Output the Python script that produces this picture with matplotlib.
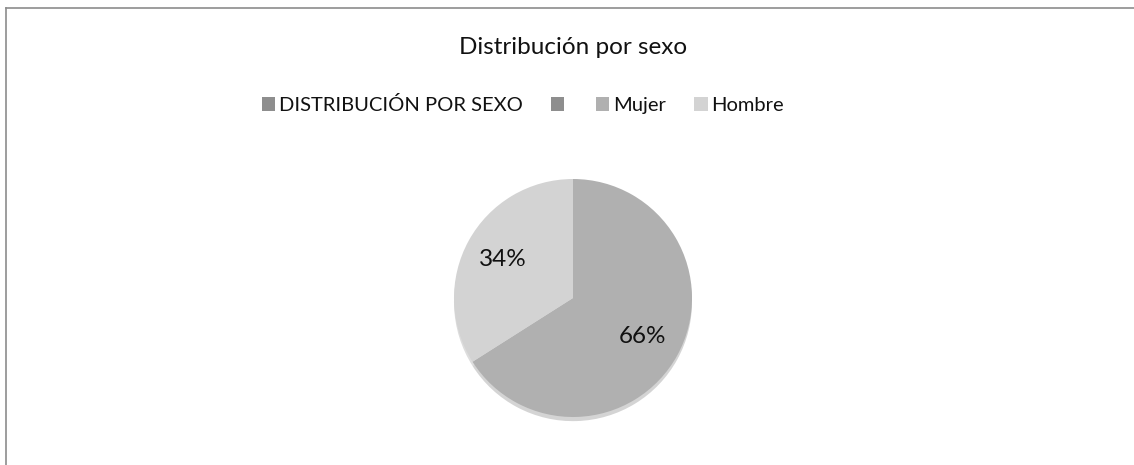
import matplotlib
matplotlib.use('Agg')
import matplotlib.pyplot as plt
from matplotlib.lines import Line2D

plt.rcParams['font.family'] = ['Lato', 'DejaVu Sans']

TITLE = 'Distribución por sexo'
labels = ['DISTRIBUCIÓN POR SEXO', '', 'Mujer', 'Hombre']
values = [0, 0, 66, 34]
colors = ['#8e8e8e', '#8e8e8e', '#b0b0b0', '#d3d3d3']

W, H = 1134, 465
fig = plt.figure(figsize=(W / 100, H / 100), dpi=100)

# pie area, radius about 119 px around (573, 298)
r_px = 119
lim = 1.2
side = 2 * lim * r_px
cx, cy = 573, H - 298
ax = fig.add_axes([(cx - side / 2) / W, (cy - side / 2) / H, side / W, side / H])


def pct(p):
    return '' if p < 0.5 else '%d%%' % round(p)


wedges, texts, autotexts = ax.pie(values, colors=colors, startangle=90, counterclock=False,
                                  autopct=pct, pctdistance=0.67,
                                  wedgeprops=dict(linewidth=0),
                                  textprops=dict(fontsize=17.5, color='#111111'),
                                  shadow=dict(ox=0, oy=-0.025, shade=0.25, alpha=0.35))
ax.set_xlim(-lim, lim)
ax.set_ylim(-lim, lim)
ax.set_aspect('equal')
ax.axis('off')

fig.text(573 / W, 1 - 47 / H, TITLE, ha='center', va='center', fontsize=17.5, color='#111111')

fig.legend(wedges, labels, loc='center', bbox_to_anchor=(523 / W, 1 - 105 / H), ncol=4,
           frameon=False, fontsize=14.5, handlelength=0.65, handleheight=0.65,
           handletextpad=0.2, columnspacing=1.4, labelcolor='#111111')

# chart frame (only top and left edge visible in the crop)
fig.add_artist(Line2D([6 / W, 1], [1 - 8 / H, 1 - 8 / H], transform=fig.transFigure,
                      color='#8c8c8c', lw=1.2))
fig.add_artist(Line2D([6 / W, 6 / W], [0, 1 - 8 / H], transform=fig.transFigure,
                      color='#8c8c8c', lw=1.2))

fig.savefig('out.png', dpi=100)
